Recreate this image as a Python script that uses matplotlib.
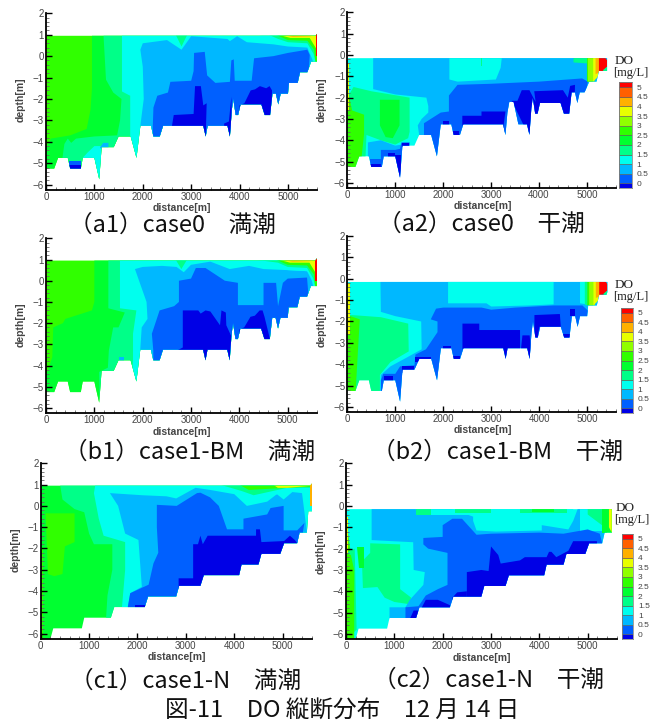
import matplotlib
matplotlib.use('Agg')
import matplotlib.pyplot as plt
from matplotlib.colors import ListedColormap, BoundaryNorm
from matplotlib.patches import Polygon
from matplotlib.ticker import MultipleLocator
import numpy as np

W, H = 660, 722

# DO classes (mg/L)
levels = [0, 0.5, 1, 1.5, 2, 2.5, 3, 3.5, 4, 4.5, 5]
level_labels = ['0', '0.5', '1', '1.5', '2', '2.5', '3', '3.5', '4', '4.5', '5']
class_colors = ['#0000e6', '#0060ff', '#00b8ff', '#00ffee', '#00ff88', '#00ff30',
                '#30ff00', '#90ff00', '#e8ff00', '#ffb000', '#ff6000', '#ff0000']
cmap = ListedColormap(class_colors)
bounds = [-0.25] + levels + [5.25]
norm = BoundaryNorm(bounds, cmap.N)

# one DO value for each class, used by the region lists below
B0, B1, SK, CY, SP, G1, G2, YG, YE, OR, OD, RD = -0.1, 0.25, 0.75, 1.25, 1.75, 2.25, 2.75, 3.25, 3.75, 4.25, 4.75, 5.1

# river bed profiles, distance [m] / depth [m]
bed_x = [0, 170, 250, 450, 500, 720, 760, 1000, 1100, 1150, 1400, 1500, 1750, 1870, 1950, 2170, 2220, 2350, 2420,
         3250, 3300, 3340, 3750, 3800, 3840, 3870, 3920, 3970, 4020, 4450, 4520, 4630, 4680, 4750, 4800, 4850,
         5000, 5020, 5200, 5250, 5400, 5480, 5600]
bed_z = [-5.25, -5.25, -4.75, -4.75, -5.25, -5.25, -4.75, -4.75, -5.75, -4.25, -4.25, -3.75, -3.75, -4.75, -3.25, -3.25, -3.75, -3.75, -3.25,
         -3.25, -3.75, -3.25, -3.25, -3.75, -2.5, -2.0, -2.75, -2.75, -2.25, -2.25, -2.75, -2.75, -1.75, -1.75, -2.25, -1.75,
         -1.75, -1.25, -1.25, -0.75, -0.75, -0.25, -0.25]
bed_a2_x = [0, 170, 250, 450, 500, 720, 760, 1000, 1100, 1150, 1400, 1500, 1750, 1870, 1950, 2170, 2220, 2350, 2420,
            3250, 3300, 3340, 3380, 3470, 3570, 3750, 3800, 3840, 3870, 3920, 3970, 4020, 4450, 4520, 4630, 4680, 4750, 4800, 4850,
            4950, 5050, 5200, 5250, 5400]
bed_a2_z = [-5.25, -5.25, -4.75, -4.75, -5.25, -5.25, -4.75, -4.75, -5.75, -4.25, -4.25, -3.75, -3.75, -4.75, -3.25, -3.25, -3.75, -3.75, -3.25,
            -3.25, -3.75, -2.7, -2.2, -2.2, -3.25, -3.25, -3.75, -2.5, -2.0, -2.75, -2.75, -2.25, -2.25, -2.75, -2.75, -1.75, -1.75, -2.25, -1.75,
            -1.75, -1.25, -1.25, -0.75, -0.75]
bed_c_x = [0, 200, 260, 850, 900, 1450, 1520, 2150, 2220, 2800, 2860, 3300, 3370, 4100, 4150, 4500, 4560, 4950, 5030,
           5300, 5350, 5500, 5530, 5600]
bed_c_z = [-6.25, -6.25, -5.75, -5.75, -5.25, -5.25, -4.75, -4.75, -4.25, -4.25, -3.75, -3.75, -3.25, -3.25, -2.75, -2.75, -2.25, -2.25, -1.75,
           -1.75, -1.25, -1.25, -0.25, -0.25]

# DO regions, painted in order: (class, distances, depths)
a1_regions = [
    (G2, [0, 5700, 5700, 0], [2, 2, -7, -7]),
    (G1, [950, 950, 920, 840, 500, 100, 0, 0, 5700, 5700], [2, -1.5, -2.5, -3.4, -3.7, -3.85, -4.3, -7, -7, 2]),
    (SP, [1190, 1190, 1240, 1390, 1560, 1530, 1470, 1000, 620, 520, 450, 380, 340, 340, 5700, 5700], [2, 0.9, -1.1, -1.7, -2, -3, -3.7, -3.75, -3.85, -4.05, -3.85, -4.1, -4.75, -7, -7, 2]),
    (CY, [1570, 1570, 1740, 1740, 1700, 5700, 5700], [2, -1.65, -1.85, -3.75, -7, -7, 2]),
    (CY, [760, 860, 1000, 1150, 1150, 760], [-4.75, -4.5, -4.2, -4.2, -6, -6]),
    (SP, [2680, 2800, 2920], [1, 0.45, 1]),
    (SK, [1950, 2000, 2500, 2800, 3000, 3750, 3800, 3950, 4150, 4700, 5000, 5400, 5520, 5520, 1950, 1950, 2020, 2000], [0.3, 0.6, 0.75, 0.3, 0.93, 0.8, 0.7, 0.93, 0.65, 0.55, 0.45, 0.4, -0.25, -7, -7, -3.25, -2, -0.5]),
    (B1, [2200, 2220, 2300, 2520, 2570, 3000, 3050, 3060, 3280, 3330, 3500, 3800, 3830, 3880, 3900, 4250, 4300, 4700, 5000, 5400, 5450, 5430, 5430, 2200],
     [-3.75, -2.4, -1.85, -1.7, -1.2, -1.15, -0.7, 0.15, 0.2, -0.9, -1.25, -1.2, -0.2, -0.15, -1.15, -1.15, -0.1, 0, 0.15, 0.3, 0.05, -0.7, -7, -7]),
    (B0, [2600, 2640, 3050, 3080, 3200, 3250, 3320, 3300, 3220], [-3.3, -2.75, -2.7, -1.4, -1.4, -2.3, -2.2, -3.8, -3.3]),
    (B0, [3680, 3780, 3830, 3850, 3700], [-3.15, -3.05, -1.9, -4, -4]),
    (B0, [4000, 4100, 4230, 4320, 4420, 4550, 4620, 4670, 4660, 4000], [-2.3, -2.2, -1.6, -1.55, -1.4, -1.5, -1.4, -1.6, -3, -3]),
    (B1, [480, 720, 720, 480], [-4.9, -4.9, -5.4, -5.4]),
    (B0, [480, 720, 720, 480], [-5.1, -5.1, -5.4, -5.4]),
    (SK, [1120, 1180, 1290, 1290, 1120], [-4.25, -4.05, -4.05, -4.3, -4.3]),
    (CY, [4400, 4700, 5000, 5400, 5500, 5530, 5620, 5620], [1, 0.7, 0.5, 0.45, 0, -0.3, -0.3, 1]),
    (SP, [4600, 4800, 5000, 5400, 5530, 5570, 5620, 5620], [1, 0.8, 0.65, 0.6, 0.1, -0.3, -0.3, 1]),
    (G2, [4750, 5000, 5400, 5540, 5570, 5620, 5620], [1, 0.75, 0.72, 0.3, -0.3, -0.3, 1]),
    (YE, [4800, 5050, 5450, 5570, 5620, 5620], [1, 0.85, 0.85, 0.4, 0.2, 1]),
    (OR, [4850, 5100, 5450, 5600, 5620], [1, 0.9, 0.92, 1, 1]),
    (RD, [5570, 5570, 5620, 5620], [1.2, 0, 0, 1.2]),
    (OR, [0, 30, 30, 0], [1, 1, -3, -3]),
]

a2_regions = [
    (CY, [0, 5700, 5700, 0], [2, 2, -7, -7]),
    (SP, [130, 500, 900, 1300, 1300, 1270, 1000, 700, 400, 380, 100, 0], [-1.5, -1.7, -1.85, -2, -3.6, -3.9, -4.2, -4, -3.75, -4.8, -4.8, -2]),
    (G2, [0, 100, 350, 350, 300, 250, 0], [-1.5, -2.6, -2.8, -3.7, -4.75, -5.3, -5.3]),
    (G1, [680, 1090, 1090, 950, 800, 680], [-2.1, -2.1, -3.3, -3.9, -3.85, -3.3]),
    (YE, [0, 40, 40, 0], [-0.4, -0.4, -2.6, -2.6]),
    (SK, [430, 700, 1000, 1280, 1280, 430], [-4.1, -4.0, -4.25, -4.15, -6, -6]),
    (SK, [540, 540, 1000, 1650, 1690, 1690, 1550, 1470, 1500, 1700, 5700, 5700], [0, -1.6, -1.85, -2, -2.4, -2.7, -3, -3.3, -3.75, -7, -7, 0]),
    (CY, [2130, 2130, 2300, 3100, 3200, 3230], [0, -1.15, -1.25, -1.15, -0.6, 0]),
    (SP, [2780, 2780, 2820, 2820], [0, -0.5, -0.5, 0]),
    (B1, [1600, 1600, 1950, 2120, 2120, 2300, 3000, 4000, 4900, 5020, 4980, 4950, 1600], [-3.75, -3.2, -2.7, -2.65, -1.9, -1.4, -1.35, -1.25, -1.1, -1.25, -1.75, -7, -7]),
    (B0, [2000, 2130, 2130, 2000], [-3.1, -3.1, -3.3, -3.3]),
    (B0, [2190, 2330, 2330, 2190], [-3.55, -3.55, -3.8, -3.8]),
    (B0, [2400, 2400, 2800, 2800, 3300, 3260, 3300, 3240], [-3.3, -2.85, -2.85, -2.65, -2.65, -3.3, -3.8, -3.8]),
    (B0, [3430, 3550, 3640, 3800, 3880, 3930, 3900, 4500, 4600, 4650, 4750, 4740, 4300, 3830, 3670], [-2.15, -2.15, -1.65, -1.65, -2, -2.2, -1.7, -1.65, -2, -1.45, -1.4, -3, -3, -3.8, -3.25]),
    (B1, [480, 720, 720, 480], [-4.9, -4.9, -5.4, -5.4]),
    (B0, [480, 720, 720, 480], [-5.1, -5.1, -5.4, -5.4]),
    (B1, [700, 1000, 1100, 1130, 1300, 1300, 700], [-4.45, -4.45, -4.4, -4.1, -4.1, -7, -7]),
    (B0, [850, 1000, 1000, 1020, 1120, 1120, 850], [-4.6, -4.6, -4.7, -4.7, -4.7, -6, -6]),
    (B0, [1150, 1280, 1280, 1150], [-4.15, -4.15, -4.3, -4.3]),
    (SK, [4700, 4700, 5020, 5020], [0, -0.4, -0.5, 0]),
    (SP, [4720, 4720, 5020, 5020], [0, -0.35, -0.4, 0]),
    (G2, [5000, 5000, 5120, 5130], [0, -1.25, -1.25, 0]),
    (YG, [5020, 5020, 5160, 5180], [0, -1.25, -1.25, 0]),
    (YE, [5130, 5130, 5240, 5240], [0, -1.25, -1.0, 0]),
    (OR, [5180, 5180, 5280, 5280], [0, -0.9, -0.8, 0]),
    (RD, [5250, 5250, 5340, 5420, 5420, 5340], [0, -0.75, -0.75, -0.55, -0.25, 0]),
    (SP, [5340, 5420, 5420, 5340], [-0.7, -0.55, -0.8, -0.8]),
]

b1_regions = [
    (G2, [0, 5700, 5700, 0], [2, 2, -7, -7]),
    (G1, [1000, 1000, 950, 400, 350, 150, 130, 0, 0, 5700, 5700], [2, -1, -1.4, -1.8, -2, -2.2, -3.6, -4.5, -7, -7, 2]),
    (SP, [1290, 1290, 1630, 1500, 1390, 1300, 1280, 1100, 1120, 5700, 5700], [2, -1.3, -1.5, -2.2, -2.2, -3.3, -4.1, -4.3, -7, -7, 2]),
    (CY, [1530, 1530, 1870, 1800, 1800, 1700, 5700, 5700], [2, -1.3, -1.4, -2.5, -3.75, -7, -7, 2]),
    (SK, [1840, 2080, 2100, 1980, 1950, 1950, 5700, 5700, 5520, 5400, 5000, 4500, 4200, 3800, 3400, 3000, 2850, 2700, 2400, 2000], [0.55, -1, -1.8, -2.2, -3.25, -7, -7, 0, 0.25, 0.45, 0.5, 0.55, 0.7, 0.55, 0.9, 0.75, 0.4, 0.65, 0.7, 0.65]),
    (SP, [2680, 2800, 2920], [1, 0.55, 1]),
    (B1, [2220, 2190, 2350, 2650, 2750, 2750, 3000, 3100, 3300, 3500, 3700, 3970, 3970, 4500, 4500, 4760, 4800, 4900, 5000, 5400, 5430, 5430, 2220],
     [-3.3, -2.5, -1.4, -1.2, -1, 0, 0.1, 0.6, 0.6, 0.3, 0, -0.1, -1.15, -1.15, -0.1, -0.1, -1.2, -0.1, 0.1, 0.15, -0.7, -7, -7]),
    (B0, [2700, 2830, 2830, 3150, 3200, 3300, 3400, 3600, 3630, 3720, 3730, 3830, 3850, 3800, 3300], [-3.3, -3.15, -1.4, -1.4, -1.55, -1.4, -1.45, -2.1, -1.4, -1.5, -2.1, -2.6, -2.1, -3.8, -3.8]),
    (B0, [4000, 4100, 4230, 4320, 4420, 4480, 4520, 4660, 4000], [-2.3, -2.2, -1.7, -1.65, -1.4, -1.4, -1.7, -3, -3]),
    (SK, [1520, 1620, 1620, 1520], [-3.6, -3.6, -3.9, -3.9]),
    (CY, [4400, 4700, 5000, 5400, 5500, 5530, 5620, 5620], [1, 0.7, 0.5, 0.45, 0, -0.3, -0.3, 1]),
    (SP, [4300, 4800, 5000, 5400, 5530, 5570, 5620, 5620], [1, 0.85, 0.65, 0.6, 0.1, -0.3, -0.3, 1]),
    (G2, [4750, 5000, 5400, 5540, 5570, 5620, 5620], [1, 0.75, 0.72, 0.3, -0.3, -0.3, 1]),
    (YE, [4800, 5050, 5450, 5570, 5620, 5620], [1, 0.85, 0.85, 0.4, 0.2, 1]),
    (OR, [4850, 5100, 5450, 5600, 5620], [1, 0.9, 0.92, 1, 1]),
    (RD, [5570, 5570, 5620, 5620], [1.2, 0, 0, 1.2]),
    (OR, [0, 30, 30, 0], [1, 1, -2, -2]),
]

b2_regions = [
    (CY, [0, 5700, 5700, 0], [2, 2, -7, -7]),
    (SK, [690, 700, 1000, 1540, 1550, 1230, 900, 700, 680, 5700, 5700], [0, -1.55, -1.75, -2, -3.3, -3.7, -4.1, -4.5, -7, -7, 0]),
    (SP, [100, 700, 1270, 1280, 900, 680, 680, 0, 0], [-1.7, -1.8, -2.1, -3.4, -3.9, -4.5, -5.4, -5.4, -1.7]),
    (G2, [0, 260, 170, 0], [-1.7, -1.9, -5.4, -5.4]),
    (YE, [0, 50, 50, 0], [-0.2, -0.2, -2.6, -2.6]),
    (CY, [2100, 2100, 2900, 3000, 3800, 4300, 4300], [0, -1.15, -1.15, -1.3, -1.25, -1.2, 0]),
    (CY, [4850, 4850, 5000, 5000], [0, -1.15, -1.2, 0]),
    (B1, [1640, 1880, 1880, 1740, 1850, 2000, 2800, 3000, 3500, 4300, 4900, 5020, 5000, 4950, 1640], [-3.3, -2.5, -2, -1.9, -1.4, -1.35, -1.35, -1.45, -1.35, -1.25, -1.25, -1.5, -1.75, -7, -7]),
    (B1, [700, 750, 1000, 1100, 1400, 1420, 1640, 1640, 700], [-4.75, -4.45, -4.45, -4.1, -4.05, -3.55, -3.3, -7, -7]),
    (B0, [770, 950, 950, 770], [-4.55, -4.55, -4.9, -4.9]),
    (B0, [1150, 1400, 1400, 1150], [-4.1, -4.1, -4.4, -4.4]),
    (B0, [1420, 1750, 1750, 1420], [-3.65, -3.65, -3.9, -3.9]),
    (B0, [2000, 2170, 2170, 2000], [-3.15, -3.15, -3.4, -3.4]),
    (B0, [2200, 2350, 2350, 2200], [-3.6, -3.6, -3.9, -3.9]),
    (B0, [2400, 2400, 2750, 2750, 3600, 3600, 3360, 3300, 3250, 2400], [-3.3, -2.1, -2.1, -2.4, -2.4, -3.3, -3.3, -3.8, -3.3, -3.3]),
    (B0, [3620, 3650, 3800, 3850, 3760], [-3.3, -2.65, -2.65, -3.8, -3.8]),
    (B0, [3900, 3900, 4430, 4450, 4000, 3960], [-2.8, -1.7, -1.65, -2.25, -2.25, -2.9]),
    (B0, [4460, 4640, 4640, 4460], [-2.6, -2.6, -2.9, -2.9]),
    (B0, [4650, 4750, 4750, 4650], [-1.4, -1.4, -1.75, -1.75]),
    (SP, [4950, 4950, 5000, 5000], [0, -1.2, -1.25, 0]),
    (G2, [5000, 5000, 5120, 5130], [0, -1.25, -1.25, 0]),
    (YG, [5040, 5040, 5160, 5180], [0, -1.25, -1.25, 0]),
    (YE, [5130, 5130, 5240, 5240], [0, -1.25, -1.0, 0]),
    (OR, [5180, 5180, 5280, 5280], [0, -0.9, -0.8, 0]),
    (RD, [5250, 5250, 5340, 5420, 5420, 5340], [0, -0.75, -0.75, -0.55, -0.25, 0]),
    (SP, [5340, 5420, 5420, 5340], [-0.7, -0.55, -0.8, -0.8]),
]

c1_regions = [
    (G1, [0, 5700, 5700, 0], [2, 2, -7, -7]),
    (G2, [100, 700, 700, 500, 450, 280, 150], [-0.35, -0.35, -1.7, -1.9, -3.2, -3.3, -3.2]),
    (SP, [400, 450, 700, 900, 1000, 1100, 1480, 1480, 1380, 1350, 1450, 5700, 5700], [1, 0.3, -0.15, -0.3, -1.3, -1.8, -1.8, -3, -4.2, -5.3, -7, -7, 1]),
    (CY, [1130, 1100, 1200, 1300, 1745, 1745, 1680, 1680, 5700, 5700], [1, 0.6, -0.6, -1.4, -1.7, -3, -4.75, -7, -7, 1]),
    (SK, [1430, 1600, 1745, 2020, 2090, 1850, 1800, 1800, 5500, 5500, 5400, 5200, 5020, 4880, 4680, 4260, 4000, 3500, 3200, 2800, 2600, 2100], [0.6, 0, -1.3, -1.6, -3.8, -4.1, -4.75, -7, -7, -1.2, 0.6, 0.65, 0.3, 0.55, 0.2, 0, 0.55, 0.75, 0.85, 0.35, 0.45, 0.5]),
    (B1, [2400, 2810, 3230, 3300, 3500, 3680, 3850, 4190, 4190, 4680, 4750, 5020, 5020, 5300, 5450, 5420, 5420, 1800, 1800, 1850, 2230, 2330, 2430, 2400], [0.05, 0, 0.6, 0.62, 0.4, 0, -1.1, -1.1, -0.6, -0.4, -0.1, 0, -1.15, -1.15, -0.8, -1.2, -7, -7, -4.75, -4.1, -3.7, -2.7, -2.2, -1]),
    (B0, [2850, 2850, 3150, 3150, 3250, 3300, 3350, 3450, 4450, 4450, 4530, 4560, 5030, 5150, 5250, 5300, 5300, 2850], [-4.4, -3.4, -3.4, -1.8, -1.8, -1.4, -1.8, -1.4, -1.4, -1.1, -1.1, -1.7, -1.65, -1.4, -1.6, -1.75, -4.4, -4.4]),
    (B0, [1950, 2150, 2150, 1950], [-4.65, -4.65, -5, -5]),
    (CY, [4100, 4300, 4500, 5200, 5550, 5620, 5620], [1, 0.5, 0.3, 0.75, 0.7, -0.3, 1]),
    (SP, [3700, 4150, 4400, 4600, 4900, 5100, 5620, 5620], [1, 0.7, 0.5, 0.6, 0.75, 0.85, 0.85, 1]),
    (G2, [4100, 4300, 4700, 5500, 5620, 5620], [1, 0.75, 0.8, 0.9, 0.9, 1]),
    (YE, [4800, 4900, 5100, 5620, 5620], [1, 0.85, 0.85, 0.95, 1]),
    (OR, [5570, 5570, 5620, 5620], [1.2, 0, 0, 1.2]),
    (G2, [0, 40, 40, 0], [-2, -2, -6.3, -6.3]),
]

c2_regions = [
    (CY, [0, 5700, 5700, 0], [2, 2, -7, -7]),
    (SP, [500, 1120, 1120, 1350, 1300, 1000, 800, 650, 350, 330, 500], [-1.75, -1.8, -3.9, -4.3, -4.6, -4.5, -4.3, -3.8, -3.85, -2.6, -2.2]),
    (G2, [0, 100, 170, 100, 0], [-0.6, -2.2, -5, -6.25, -6.25]),
    (SP, [0, 180, 220, 0], [-2.2, -2, -5.8, -6.25]),
    (G2, [0, 100, 170, 170, 0], [-2.2, -2.3, -3, -6.3, -6.3]),
    (YE, [0, 40, 40, 0], [-0.5, -0.5, -2.2, -2.2]),
    (G1, [230, 380, 380, 260], [-1.9, -1.9, -2.9, -2.9]),
    (SK, [530, 530, 1390, 1400, 1630, 1600, 1320, 1230, 900, 900, 5400, 5400, 4800, 4700, 4600, 4050, 2630, 2000], [0, -1.6, -1.7, -3, -3.1, -3.7, -4.4, -4.75, -4.75, -7, -7, -0.1, -0.1, -0.7, -1.1, -0.9, -0.5, 0]),
    (CY, [2630, 2630, 2700, 3100, 4050, 4050], [0, -0.7, -1.15, -1.2, -1.15, 0]),
    (CY, [1450, 1450, 2630, 2630], [0, -0.4, -0.4, 0]),
    (CY, [3700, 3700, 4700, 4700], [0, -0.4, -0.55, 0]),
    (SP, [1450, 1450, 1750, 1750], [0, -0.4, -0.4, 0]),
    (SP, [2250, 2250, 3000, 3000], [0, -0.35, -0.35, 0]),
    (SP, [3600, 3600, 4580, 4580], [0, -0.35, -0.35, 0]),
    (G1, [3850, 3850, 4300, 4300], [0, -0.3, -0.3, 0]),
    (CY, [4850, 4850, 5300, 5300], [0, -1.15, -1.15, 0]),
    (SP, [5000, 5000, 5500, 5500], [0, -0.4, -1.25, 0]),
    (G1, [5300, 5300, 5500, 5500], [0, -1.25, -1.25, 0]),
    (YE, [5440, 5440, 5500, 5500], [0, -1, -1.25, 0]),
    (B1, [1230, 1500, 1650, 1900, 2100, 2100, 1700, 1600, 1600, 2000, 2000, 2200, 2400, 2600, 2700, 3000, 4000, 4500, 5000, 5250, 5300, 5300, 1230],
     [-4.75, -4.7, -4.2, -3.9, -3.7, -2.2, -2, -1.8, -1.5, -1.45, -0.9, -0.6, -0.6, -1.1, -1.35, -1.3, -1.25, -1.3, -1.1, -1.3, -1.75, -7, -7]),
    (B0, [2500, 2500, 2800, 2950, 3000, 3150, 3200, 3600, 3700, 4150, 4200, 4250, 4350, 4600, 4700, 5190, 5250, 2500], [-4.4, -3.1, -3, -3.05, -1.9, -2.3, -2.7, -2.55, -2.4, -2.4, -2.15, -2.15, -2.4, -2.1, -1.65, -1.65, -4, -4.4]),
    (B0, [1320, 1400, 1500, 1500, 1320], [-5.3, -4.9, -4.9, -5.3, -5.3]),
    (B0, [1570, 1650, 1900, 2150, 2150, 1570], [-4.75, -4.4, -4.4, -4.65, -4.8, -4.8]),
    (B0, [2200, 2300, 2500, 2500, 2200], [-4.3, -4.05, -4, -4.4, -4.4]),
]

# axis box on the page [px]: left, right, top, bottom
boxes = {
    'a1': (46, 317, 13.3, 190),
    'a2': (347.3, 615.7, 12.3, 188.3),
    'b1': (46, 316.7, 238.3, 413.3),
    'b2': (347.3, 616, 236, 412.3),
    'c1': (40.7, 311.7, 463.3, 639),
    'c2': (346, 616.7, 463.3, 639.3),
}
xmax = 5600
ymin, ymax = -6.25, 2

panels = [
    ('a1', 0.95, 5620, bed_x, bed_z, a1_regions),
    ('a2', -0.15, 5420, bed_a2_x, bed_a2_z, a2_regions),
    ('b1', 0.95, 5620, bed_x, bed_z, b1_regions),
    ('b2', -0.15, 5420, bed_x, bed_z, b2_regions),
    ('c1', 0.95, 5620, bed_c_x, bed_c_z, c1_regions),
    ('c2', -0.15, 5500, bed_c_x, bed_c_z, c2_regions),
]

captions = [
    ('（a1）case0　満潮', 69, 225),
    ('（a2）case0　干潮', 378, 224),
    ('（b1）case1-BM　満潮', 64, 452),
    ('（b2）case1-BM　干潮', 372, 452),
    ('（c1）case1-N　満潮', 70, 681),
    ('（c2）case1-N　干潮', 373, 680),
]
title = '図-11　DO 縦断分布　12 月 14 日'

# axis label places [px]: ylabel x, ylabel y, xlabel x, xlabel y
label_places = {
    'a1': (21, 100, 182, 208),
    'a2': (322, 100, 483, 206),
    'b1': (21, 325, 182, 432),
    'b2': (322, 325, 483, 430),
    'c1': (16, 550, 177, 657),
    'c2': (321, 552, 482, 658),
}
# colour bar boxes [px] and the place of the DO heading
bar_boxes = [
    (619.3, 631.7, 82.3, 188.3, 613, 67),
    (620.7, 632.7, 308, 413, 613, 291),
    (621.7, 633, 534, 639, 614, 514),
]


def page_rect(left, right, top, bottom):
    return [left / W, 1 - bottom / H, (right - left) / W, (bottom - top) / H]


def page_text(x, y, s, **kw):
    return fig.text(x / W, 1 - y / H, s, **kw)


def water_outline(surface, x_end, bx, bz):
    xs = [x for x in bx if x < x_end]
    zs = [min(z, surface) for x, z in zip(bx, bz) if x < x_end]
    end_z = min(np.interp(x_end, bx, bz), surface)
    if surface > 0:
        # the last cell at the head of the river stands a little higher
        outline_x = [0, 5570, 5620] + [x_end] + xs[::-1]
        outline_z = [surface, surface, 1.1] + [end_z] + zs[::-1]
    else:
        outline_x = [0, x_end, x_end] + xs[::-1]
        outline_z = [surface, surface, end_z] + zs[::-1]
    return np.column_stack([outline_x, outline_z])


fig = plt.figure(figsize=(W / 100, H / 100), dpi=100, facecolor='white')

for name, surface, x_end, bx, bz, regions in panels:
    box = boxes[name]
    ax = fig.add_axes(page_rect(*box))
    ax.set_xlim(0, xmax)
    ax.set_ylim(ymin, ymax)

    water = Polygon(water_outline(surface, x_end, bx, bz), closed=True, transform=ax.transData)
    for do_value, xs, zs in regions:
        patch = ax.fill(xs, zs, color=cmap(norm(do_value)), lw=0)[0]
        patch.set_clip_path(water)

    ax.spines['top'].set_visible(False)
    ax.spines['right'].set_visible(False)
    ax.spines['left'].set_linewidth(1.3)
    ax.spines['bottom'].set_linewidth(1.3)
    ax.set_xticks([0, 1000, 2000, 3000, 4000, 5000])
    ax.set_yticks([-6, -5, -4, -3, -2, -1, 0, 1, 2])
    ax.xaxis.set_minor_locator(MultipleLocator(200))
    ax.yaxis.set_minor_locator(MultipleLocator(0.2))
    ax.tick_params(which='major', direction='in', length=4.5, width=1, labelsize=7, pad=1.5, labelcolor='#444444')
    ax.tick_params(which='minor', direction='in', length=2, width=0.6, color='#666666')
    for lab in ax.get_xticklabels() + ax.get_yticklabels():
        lab.set_family('Liberation Sans')
    ax.patch.set_alpha(0)

    yl_x, yl_y, xl_x, xl_y = label_places[name]
    lab_kw = dict(family='Liberation Sans', fontweight='bold', fontsize=7.5, color='#444444', ha='center', va='center')
    page_text(yl_x, yl_y, 'depth[m]', rotation=90, **lab_kw)
    page_text(xl_x, xl_y, 'distance[m]', **lab_kw)

for left, right, top, bottom, do_x, do_y in bar_boxes:
    cax = fig.add_axes(page_rect(left, right, top, bottom))
    edges = np.array(bounds)
    cax.bar(0, edges[1:] - edges[:-1], bottom=edges[:-1], width=1, color=class_colors, edgecolor='#555555', linewidth=0.4)
    cax.set_xlim(-0.5, 0.5)
    cax.set_ylim(bounds[0], bounds[-1])
    cax.set_xticks([])
    cax.yaxis.tick_right()
    cax.set_yticks(levels, level_labels)
    cax.tick_params(length=0, labelsize=6, pad=3.5, labelcolor='#444444')
    for lab in cax.get_yticklabels():
        lab.set_family('Liberation Sans')
    for s in cax.spines.values():
        s.set_linewidth(0.5)
        s.set_color('#777777')
    page_text(do_x + 2, do_y - 6, 'DO', family='Liberation Serif', fontsize=9.5, ha='left', va='center', color='#222222')
    page_text(do_x, do_y + 6, '[mg/L]', family='Liberation Serif', fontsize=9, ha='left', va='center', color='#222222')

cap_family = ['Noto Sans CJK JP', 'DejaVu Sans']
for text, x, y in captions:
    page_text(x, y, text, family=cap_family, fontsize=17, ha='left', va='center', color='#111111')
page_text(342, 710, title, family=cap_family, fontsize=17, ha='center', va='center', color='#111111')

fig.savefig('out.png', dpi=100, facecolor='white')
